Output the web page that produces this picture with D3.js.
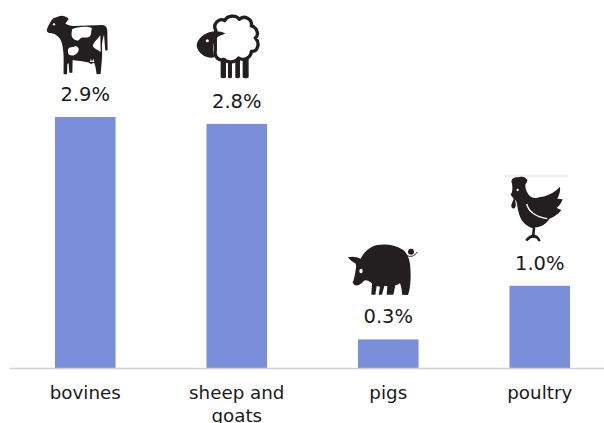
<!DOCTYPE html>
<html><head><meta charset="utf-8">
<script src="https://cdn.jsdelivr.net/npm/d3@7/dist/d3.min.js"></script>
<style>html,body{margin:0;padding:0;background:#fff;overflow:hidden}svg{display:block}text{font-family:"DejaVu Sans",sans-serif;fill:#1a1a1a}</style>
</head><body><div id="c"></div>
<script>
const categories = ["bovines", "sheep and goats", "pigs", "poultry"];
const values = [2.9, 2.82, 0.33, 0.95];
const valueLabels = ["2.9%", "2.8%", "0.3%", "1.0%"];
const W = 604, H = 423, axisY = 368;
const svg = d3.select("#c").append("svg").attr("width", W).attr("height", H);
const x = d3.scaleBand().domain(categories).range([9.5, 615.5]).paddingInner(0.6).paddingOuter(0.3);
const y = d3.scaleLinear().domain([0, 2.9]).range([axisY, 117]);

svg.selectAll("rect.bar").data(categories).join("rect").attr("class", "bar")
  .attr("x", d => x(d)).attr("width", x.bandwidth())
  .attr("y", (d, i) => y(values[i])).attr("height", (d, i) => axisY - y(values[i]))
  .attr("fill", "#7b8ed9");

svg.selectAll("text.val").data(categories).join("text").attr("class", "val")
  .attr("x", d => x(d) + x.bandwidth() / 2)
  .attr("y", (d, i) => y(values[i]) - 16)
  .attr("text-anchor", "middle").attr("font-size", 19.5)
  .text((d, i) => valueLabels[i]);

const ax = svg.append("g").attr("transform", `translate(0,${axisY})`)
  .call(d3.axisBottom(x).tickSize(0).tickPadding(0));
ax.select(".domain").attr("stroke", "#cfcfcf").attr("stroke-width", 1.6).attr("d", "M10,0.5H604");
ax.selectAll(".tick text").attr("font-size", 18.3).attr("y", 0).attr("dy", 0).each(function (d) {
  const t = d3.select(this).text(null);
  const lines = d === "sheep and goats" ? ["sheep and", "goats"] : [d];
  lines.forEach((l, i) => t.append("tspan").attr("x", 0).attr("y", 31 + i * 23).text(l));
});

const ink = "#231f20";
// Cow, sheep drawn in the coordinates of a 3x grid whose origin is (30,0)
const g1 = svg.append("g").attr("transform", "translate(30,0) scale(0.3333)");
g1.append("path").attr("fill", ink).attr("d",
 "M50,92 C52,80 60,70 65,60 C70,52 78,52 84,50 C92,46 104,46 116,56 C112,64 108,68 106,70 C112,76 120,78 130,78 L218,75 C228,76 232,84 232,96 L233,150 L226,152 L222,104 C218,118 216,128 216,140 C218,170 214,195 212,222 L200,223 C198,210 197,200 193,190 C190,186 188,192 184,192 C180,190 176,186 168,186 C150,182 138,182 128,180 L127,218 L118,218 L116,190 L112,192 L111,223 L101,223 C100,195 103,170 98,140 C94,118 88,112 74,102 C66,98 54,102 50,92 Z");
g1.append("path").attr("fill", "#fff").attr("d",
 "M126,88 C140,80 172,78 186,84 C182,94 186,104 178,110 C168,116 156,108 150,116 C144,126 134,120 128,114 C122,106 126,96 126,88 Z M192,128 L211,106 L212,156 C204,150 192,146 188,138 Z M114,148 C120,138 130,144 136,138 C146,140 150,150 142,158 C134,168 120,170 114,160 Z M180,186 L183,176 L186,186 L190,176 L193,186 Z");
g1.append("circle").attr("cx", 72).attr("cy", 73).attr("r", 3.5).attr("fill", "#fff");
// sheep
g1.append("path").attr("fill", ink).attr("d",
 "M572,170 H588 V232 C584,236 576,236 572,232 Z M594,178 H606 V232 C604,236 596,236 594,232 Z M616,178 H630 V232 C626,236 618,236 616,232 Z M638,170 H656 V232 C652,236 642,236 638,232 Z");
g1.append("path").attr("fill", "#fff").attr("stroke", ink).attr("stroke-width", 10).attr("stroke-linejoin", "round").attr("d",
 "M558,92 C546,72 568,52 584,62 C592,46 618,44 628,58 C642,44 668,56 664,78 C682,82 688,106 676,114 C692,130 682,156 664,154 C664,174 640,184 626,174 C616,190 590,188 582,178 C566,184 552,170 556,152 L556,100 Z");
g1.append("path").attr("fill", ink).attr("d",
 "M586,100 C566,90 538,92 520,106 C506,116 498,130 501,142 C506,162 530,178 554,172 C546,150 548,126 560,114 C568,106 578,106 586,100 Z");
g1.append("circle").attr("cx", 532).attr("cy", 122).attr("r", 4.5).attr("fill", "#fff");

// Pig and hen in the coordinates of a 3x grid whose origin is (330,160)
const g2 = svg.append("g").attr("transform", "translate(330,160) scale(0.3333)");
g2.append("path").attr("fill", ink).attr("d",
 "M54,292 C66,288 80,290 92,296 C100,280 116,262 138,256 C164,250 196,254 216,268 C232,278 240,298 241,322 C243,350 242,385 234,405 L216,404 C216,392 214,380 210,370 C204,374 200,376 196,376 L190,404 L170,404 L172,378 L163,378 L156,404 L146,404 L150,380 L140,378 L136,404 L124,404 L126,370 C116,362 108,358 102,362 C94,372 84,378 74,376 L68,368 C72,358 74,348 76,336 C78,324 80,316 76,310 C68,306 60,300 54,292 Z");
g2.append("path").attr("fill", "none").attr("stroke", ink).attr("stroke-width", 3).attr("d",
 "M232,286 C238,292 254,290 262,276");
g2.append("circle").attr("cx", 243).attr("cy", 275).attr("r", 9).attr("fill", ink);
g2.append("ellipse").attr("cx", 93).attr("cy", 333).attr("rx", 5).attr("ry", 7).attr("fill", "#fff");
// hen
g2.append("rect").attr("x", 520).attr("y", 44).attr("width", 195).attr("height", 8).attr("fill", "#f0f0f0");
g2.append("path").attr("fill", ink).attr("d",
 "M544,64 C546,54 556,50 564,52 C572,48 590,50 592,62 C592,68 586,70 586,76 C586,88 590,96 596,104 C604,114 616,116 628,112 C650,108 672,100 690,80 C692,92 688,104 682,116 L698,118 C694,130 688,138 680,144 L694,150 C684,164 670,172 658,176 C652,188 638,198 622,202 L616,202 L614,224 C622,226 630,232 632,244 L625,244 C622,236 618,234 614,234 L606,234 C600,236 596,240 592,244 L586,240 C590,232 598,226 606,224 L608,204 C590,200 574,184 568,164 C564,150 562,140 560,126 C556,120 552,118 548,112 L542,104 L546,96 C548,86 548,76 544,64 Z");
g2.append("path").attr("fill", ink).attr("d", "M552,110 C556,124 560,134 556,142 C552,148 544,146 544,138 C544,130 550,124 552,110 Z");
g2.append("path").attr("fill", "none").attr("stroke", "#fff").attr("stroke-width", 4).attr("d",
 "M590,132 C596,156 620,172 652,176");
g2.append("circle").attr("cx", 563).attr("cy", 90).attr("r", 3.5).attr("fill", "#fff");
</script></body></html>
